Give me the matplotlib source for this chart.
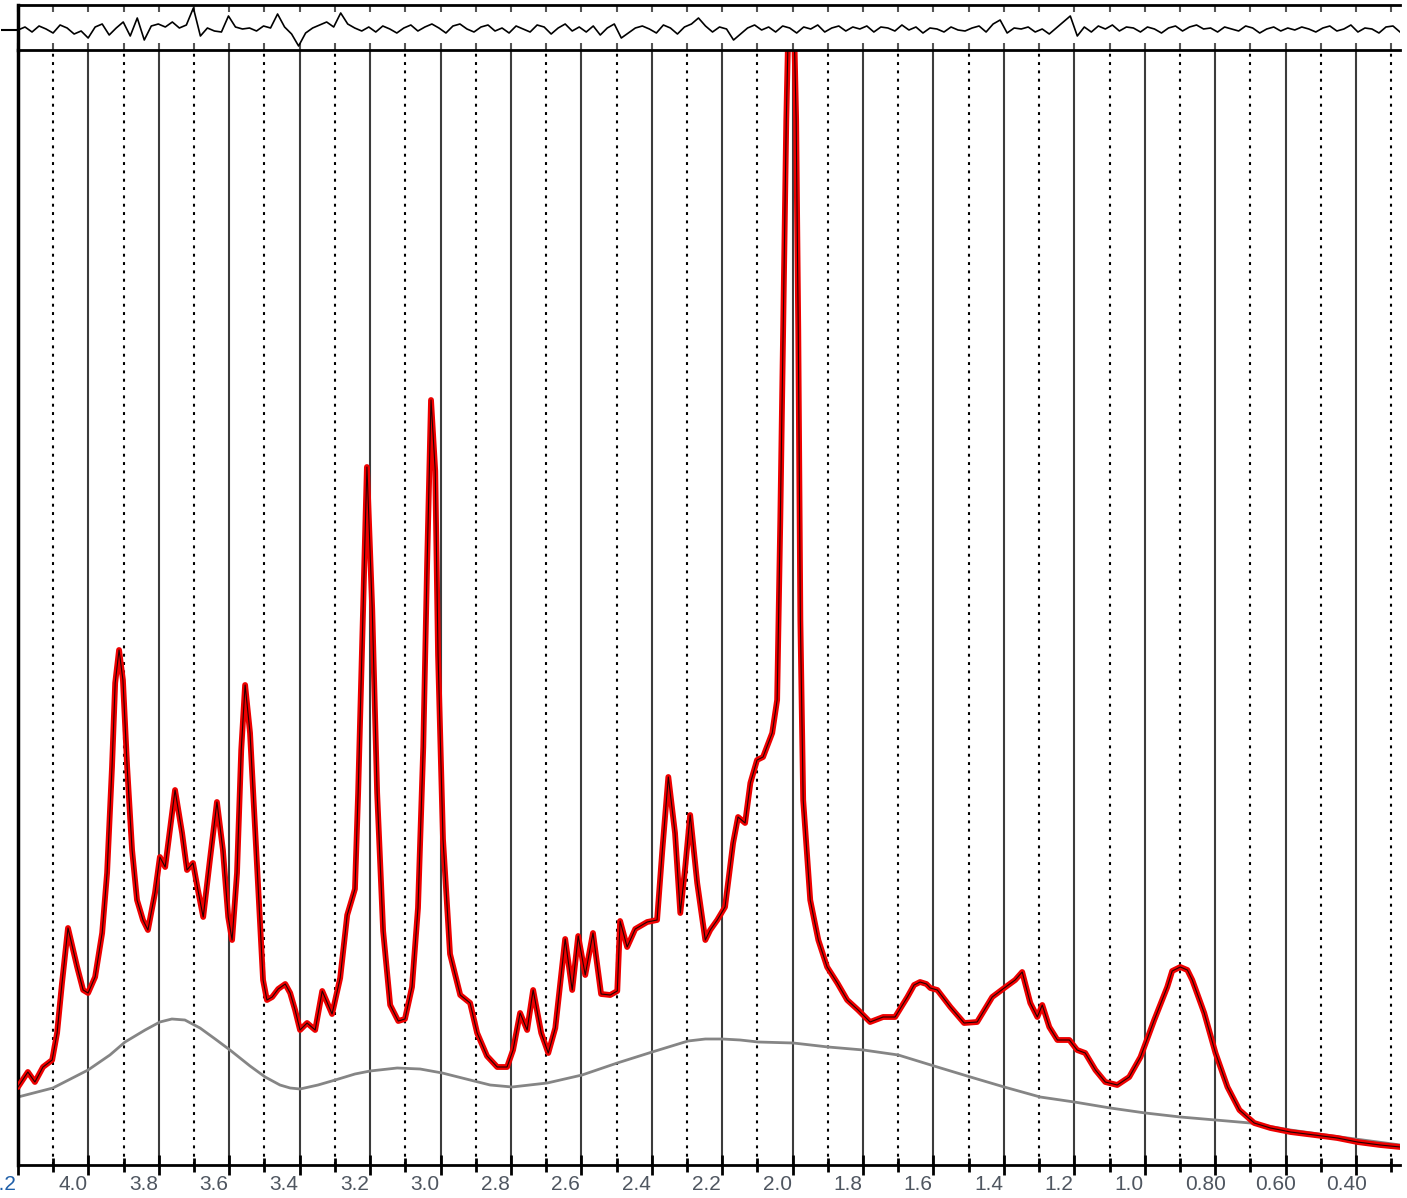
import matplotlib
matplotlib.use("Agg")
import matplotlib.pyplot as plt
import matplotlib.transforms as mtrans
import numpy as np

# chemical shift (ppm) and intensity of the spectrum / fit
ppm = [4.200, 4.172, 4.152, 4.129, 4.103, 4.089, 4.075, 4.058, 4.032, 4.015,
       4.001, 3.981, 3.961, 3.947, 3.933, 3.924, 3.913, 3.902, 3.890, 3.876,
       3.862, 3.845, 3.831, 3.811, 3.797, 3.782, 3.754, 3.734, 3.720, 3.703,
       3.689, 3.674, 3.655, 3.635, 3.618, 3.603, 3.592, 3.578, 3.566, 3.555,
       3.541, 3.521, 3.504, 3.493, 3.478, 3.461, 3.441, 3.427, 3.413, 3.399,
       3.379, 3.356, 3.336, 3.308, 3.285, 3.265, 3.243, 3.234, 3.220, 3.209,
       3.194, 3.180, 3.163, 3.143, 3.120, 3.101, 3.081, 3.064, 3.049, 3.038,
       3.027, 3.015, 3.007, 2.993, 2.973, 2.944, 2.916, 2.896, 2.868, 2.839,
       2.811, 2.794, 2.774, 2.754, 2.737, 2.714, 2.694, 2.674, 2.646, 2.626,
       2.609, 2.589, 2.567, 2.544, 2.518, 2.498, 2.490, 2.470, 2.447, 2.413,
       2.385, 2.370, 2.353, 2.334, 2.319, 2.305, 2.291, 2.271, 2.248, 2.234,
       2.214, 2.192, 2.169, 2.155, 2.135, 2.120, 2.101, 2.084, 2.058, 2.044,
       2.035, 2.027, 2.018, 2.013, 2.004, 1.995, 1.990, 1.984, 1.978, 1.970,
       1.950, 1.927, 1.902, 1.873, 1.845, 1.814, 1.780, 1.743, 1.709, 1.674,
       1.655, 1.638, 1.620, 1.609, 1.589, 1.552, 1.513, 1.476, 1.433, 1.399,
       1.368, 1.348, 1.325, 1.305, 1.291, 1.271, 1.248, 1.214, 1.192, 1.169,
       1.140, 1.112, 1.078, 1.044, 1.012, 0.973, 0.936, 0.922, 0.899, 0.879,
       0.865, 0.831, 0.799, 0.765, 0.731, 0.689, 0.643, 0.586, 0.518, 0.453,
       0.396, 0.331, 0.274]
intensity = [78, 93, 83, 98, 105, 132, 182, 237, 198, 175,
             172, 188, 232, 292, 398, 482, 515, 485, 398, 315,
             265, 245, 235, 272, 308, 298, 375, 332, 295, 302,
             275, 248, 305, 363, 315, 248, 225, 292, 415, 480,
             432, 298, 185, 165, 168, 176, 181, 172, 155, 135,
             142, 135, 174, 151, 187, 250, 276, 372, 556, 698,
             556, 372, 234, 160, 144, 146, 178, 257, 418, 602,
             765, 694, 510, 326, 211, 170, 162, 132, 109, 98,
             98, 115, 152, 135, 175, 132, 112, 137, 226, 175,
             229, 190, 232, 171, 170, 174, 244, 218, 236, 243,
             245, 315, 388, 332, 252, 298, 350, 282, 225, 235,
             245, 258, 322, 348, 342, 382, 405, 408, 432, 465,
             645, 835, 1045, 1125, 1415, 1125, 1045, 835, 545, 365,
             265, 225, 198, 182, 165, 155, 143, 148, 148, 168,
             180, 183, 181, 177, 175, 158, 142, 143, 168, 177,
             185, 193, 162, 148, 160, 138, 125, 125, 115, 112,
             95, 83, 80, 88, 108, 145, 178, 194, 198, 195,
             185, 152, 112, 78, 55, 42, 37, 33, 30, 27,
             23, 20, 18]

# broad baseline component
base_ppm = [4.200, 4.101, 4.001, 3.939, 3.896, 3.839, 3.797, 3.763, 3.726, 3.683,
            3.640, 3.598, 3.541, 3.498, 3.456, 3.427, 3.399, 3.348, 3.299, 3.243,
            3.200, 3.123, 3.058, 2.995, 2.916, 2.859, 2.797, 2.697, 2.598, 2.498,
            2.399, 2.297, 2.248, 2.200, 2.149, 2.098, 1.998, 1.899, 1.799, 1.700,
            1.589, 1.495, 1.399, 1.297, 1.200, 1.098, 0.998, 0.899, 0.799, 0.700,
            0.586, 0.444, 0.274]
base_int = [68, 77, 95, 110, 123, 135, 143, 146, 145, 137,
            126, 115, 99, 88, 80, 77, 76, 80, 85, 91,
            94, 97, 96, 92, 85, 80, 78, 82, 90, 102,
            113, 124, 126, 126, 125, 123, 122, 118, 115, 110,
            98, 88, 78, 68, 63, 57, 52, 48, 45, 42,
            35, 28, 20]

# residual (data - fit), top strip
residual = [0, 3, -2, 4, 1, -3, 5, 2, -4, -1,
            -8, 3, 6, -5, 2, 8, -6, 12, -10, 4,
            6, 3, 8, 2, 5, 22, -6, 2, -1, -2,
            14, 3, 1, 2, -1, 4, 2, 16, 3, -4,
            -16, -3, 2, 5, 8, 3, 17, 6, 2, -1,
            3, -2, 4, 1, -3, 2, 5, -1, 3, 6,
            2, -3, 4, 6, 1, -2, 3, 5, -1, 2,
            -3, 4, 1, -2, 5, 3, -4, 2, 6, -1,
            3, -2, 4, -5, 2, 6, -8, -3, 2, 4,
            1, -3, 5, 2, -4, 3, 6, 12, 4, -2,
            3, 1, -10, -4, 2, 5, 0, 3, -2, 4,
            2, -3, 3, 1, 5, -2, 2, 4, -1, 3,
            1, 4, -2, 3, 2, -1, 5, 0, 3, -3,
            2, 1, -2, 3, 0, -1, 2, 4, -2, 6,
            10, -3, 2, 1, 3, -2, 1, -4, 2, 8,
            14, -6, 3, -2, 4, 1, 5, -1, 3, 2,
            -2, 3, 1, -3, 2, 4, -1, 3, 5, 1,
            2, -2, 3, 1, -1, 4, 2, -3, 1, 3,
            -1, 2, 0, 3, 1, -2, 2, 4, -1, 1,
            5, -2, 2, 1, -3, 3, 4, -2]
resid_ppm = np.linspace(4.2, 0.275, len(residual))

major_ticks = [4.2, 4.0, 3.8, 3.6, 3.4, 3.2, 3.0, 2.8, 2.6, 2.4, 2.2, 2.0,
               1.8, 1.6, 1.4, 1.2, 1.0, 0.8, 0.6, 0.4]
tick_labels = ['4.2', '4.0', '3.8', '3.6', '3.4', '3.2', '3.0', '2.8', '2.6',
               '2.4', '2.2', '2.0', '1.8', '1.6', '1.4', '1.2', '1.0', '0.80',
               '0.60', '0.40']
minor_ticks = [4.1, 3.9, 3.7, 3.5, 3.3, 3.1, 2.9, 2.7, 2.5, 2.3, 2.1, 1.9,
               1.7, 1.5, 1.3, 1.1, 0.9, 0.7, 0.5, 0.3]

plt.rcParams['font.family'] = ['Liberation Sans', 'DejaVu Sans']

fig = plt.figure(figsize=(14.07, 11.98), dpi=100)
W, H = 1407, 1198
ax = fig.add_axes([18 / W, 33 / H, 1382 / W, 1115 / H])
axr = fig.add_axes([18 / W, 1148 / H, 1382 / W, 45 / H])

# main panel
for x in major_ticks[1:]:
    ax.axvline(x, color='#3c3c3c', lw=1.5, zorder=1)
for x in minor_ticks:
    ax.axvline(x, color='black', lw=1.5, ls=(0, (1.4, 2.6)), zorder=1)

ax.plot(base_ppm, base_int, color='#858585', lw=2, zorder=2,
        solid_joinstyle='round')
ax.plot(ppm, intensity, color='#ee0000', lw=4.2, zorder=3,
        solid_joinstyle='round', solid_capstyle='round')
ax.plot(ppm, intensity, color='black', lw=0.8, alpha=0.85, zorder=4)

ax.set_xlim(4.2, 0.275)
ax.set_ylim(0, 1115)
ax.set_yticks([])
ax.set_xticks(major_ticks)
ax.set_xticklabels(tick_labels)
ax.set_xticks(minor_ticks, minor=True)
ax.tick_params(axis='x', which='major', direction='inout', length=15, width=2,
               pad=0, labelsize=15, labelcolor='#4f5660')
ax.tick_params(axis='x', which='minor', direction='inout', length=10, width=2)
for s in ['top', 'right']:
    ax.spines[s].set_visible(False)
ax.spines['bottom'].set_linewidth(2)
ax.spines['left'].set_linewidth(2.5)

offset = mtrans.ScaledTranslation(-30 / 100, 0, fig.dpi_scale_trans)
for lab in ax.get_xticklabels():
    lab.set_horizontalalignment('left')
    lab.set_transform(lab.get_transform() + offset)
ax.get_xticklabels()[0].set_color('#1f5fa8')

# residual strip
axr.plot(resid_ppm, residual, color='black', lw=1.2)
axr.set_xlim(4.2, 0.275)
axr.set_ylim(-20, 25)
axr.set_xticks(major_ticks)
axr.set_xticks(minor_ticks, minor=True)
axr.set_xticklabels([])
axr.tick_params(axis='x', which='both', direction='in', length=5, width=1.5,
                top=True, bottom=True, color='#555555')
axr.set_yticks([0])
axr.set_yticklabels([])
axr.tick_params(axis='y', direction='out', length=12, width=1.5)
axr.spines['right'].set_visible(False)
axr.spines['top'].set_linewidth(2)
axr.spines['bottom'].set_linewidth(2)
axr.spines['left'].set_linewidth(2.5)

fig.savefig('out.png', dpi=100)
